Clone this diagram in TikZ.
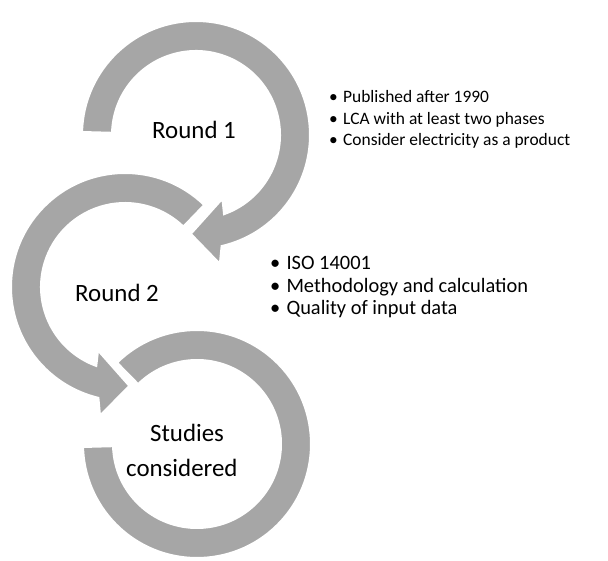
\documentclass[tikz,border=0pt]{standalone}
\usepackage{fontspec}
\setmainfont{Carlito}
\definecolor{bandgray}{HTML}{A6A6A6}
\begin{document}
\begin{tikzpicture}[x=1bp,y=1bp,
  band/.style={fill=bandgray,draw=white,line width=2bp,line join=miter},
  bigtext/.style={font=\fontsize{25}{30}\selectfont,inner sep=0pt},
  listA/.style={font=\fontsize{17.5}{21.7}\selectfont,align=left,inner sep=0pt},
  listB/.style={font=\fontsize{20.5}{23}\selectfont,align=left,inner sep=0pt}]
\newcommand{\itm}[1]{\makebox[0.8em][l]{\textbullet}#1}
\useasboundingbox (0,0) rectangle (608,561);
\fill[white] (0,0) rectangle (608,561);

\coordinate (c1) at (196,426);
\coordinate (c2) at (125,274);
\coordinate (c3) at (197,117);

% third band: closed loop without head
\begin{scope}[shift={(c3)}]
  \path[band] (134.5:84) -- (134.5:114) arc[start angle=134.5, end angle=-178.5, radius=114]
    -- (-178.5:84) arc[start angle=-178.5, end angle=134.5, radius=84] -- cycle;
\end{scope}

% second band: counter-clockwise, head at lower left
\begin{scope}[shift={(c2)}]
  \path[band] (46:84) -- (46:114) arc[start angle=46, end angle=256.5, radius=114]
    -- (259:131) -- (272.5:99) -- (247:69) -- (250:84)
    arc[start angle=250, end angle=46, radius=84] -- cycle;
\end{scope}

% first band: clockwise, head at lower right
\begin{scope}[shift={(c1)}]
  \path[band] (178.5:84) -- (178.5:114) arc[start angle=178.5, end angle=-77, radius=114]
    -- (-79.5:131) -- (-93:99) -- (-67.5:69) -- (-70.5:84)
    arc[start angle=-70.5, end angle=178.5, radius=84] -- cycle;
\end{scope}

\node[bigtext,anchor=base west] (r1) at (152,422) {Round 1};
\node[bigtext,anchor=base west] (r2) at (75,259) {Round 2};
\node[bigtext,anchor=base west] (s1) at (150,119) {Studies};
\node[bigtext,anchor=base west] (s2) at (126,84) {considered};

% multi-line nodes: base anchor sits on the last line
\node[listA,anchor=base west] (crit1) at (329,415)
  {\itm{Published after 1990}\\ \itm{LCA with at least two phases}\\ \itm{Consider electricity as a product}};
\node[listB,anchor=base west] (crit2) at (270,246)
  {\itm{ISO 14001}\\ \itm{Methodology and calculation}\\ \itm{Quality of input data}};
\end{tikzpicture}
\end{document}
